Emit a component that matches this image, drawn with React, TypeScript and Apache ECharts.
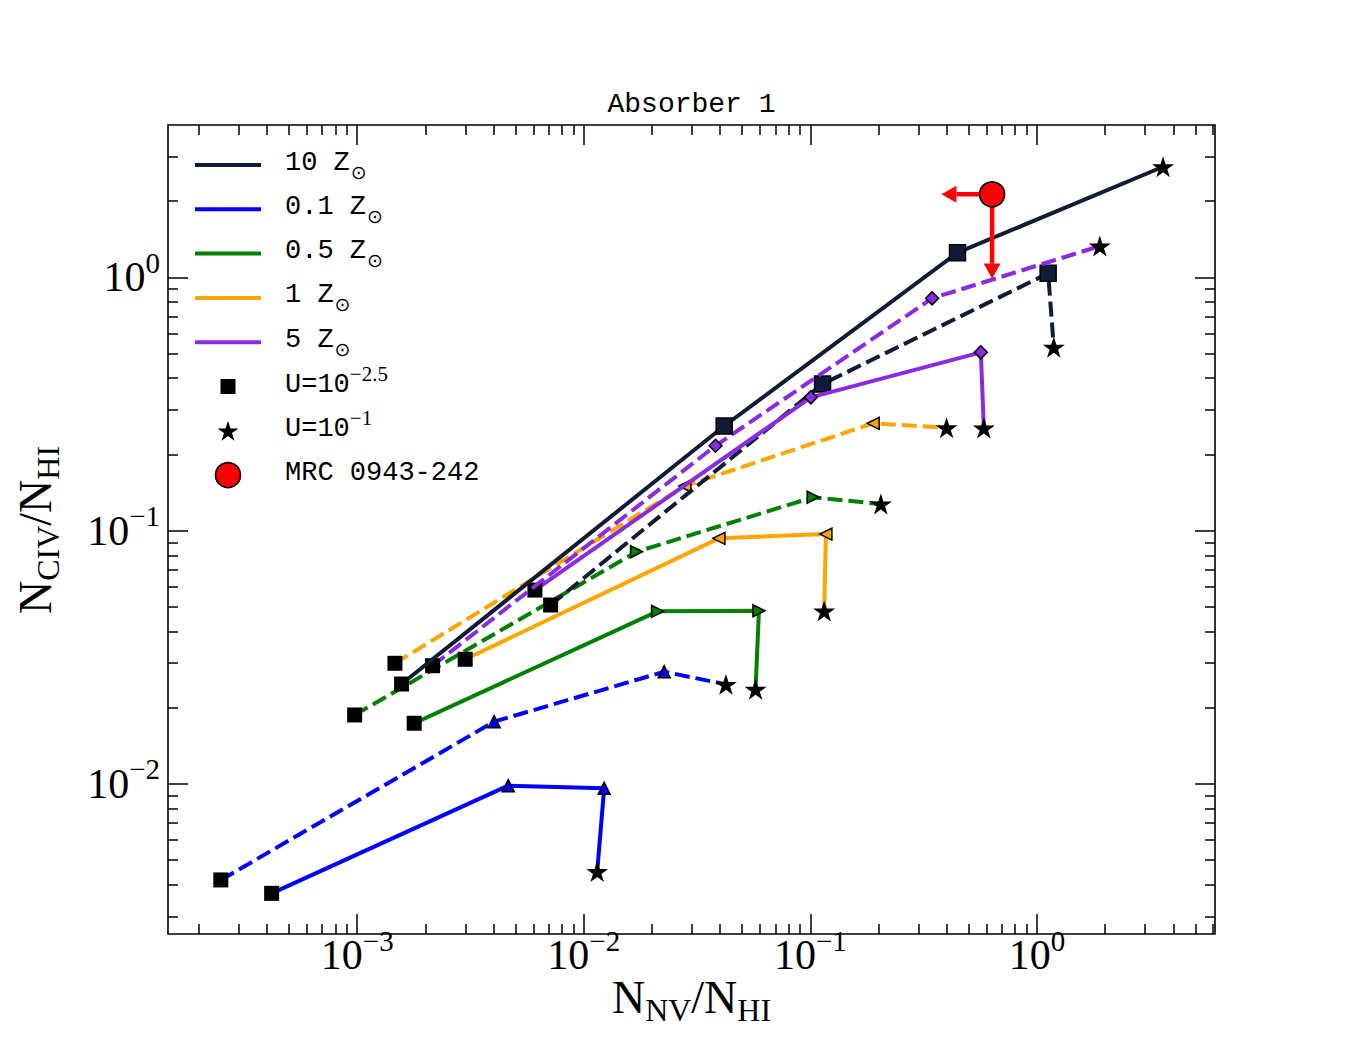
import React, { useEffect, useRef } from 'react';
import * as echarts from 'echarts';

// ---------------- data: N_NV/N_HI (x) and N_CIV/N_HI (y) ----------------
// each curve: U = 10^-2.5 (first) ... U = 10^-1 (last)
const z01SolidNV = [4.19e-4, 4.64e-3, 1.23e-2, 1.146e-2];
const z01SolidCIV = [3.70e-3, 9.85e-3, 9.62e-3, 4.51e-3];
const z01DashNV = [2.50e-4, 4.02e-3, 2.264e-2, 4.24e-2];
const z01DashCIV = [4.18e-3, 1.762e-2, 2.775e-2, 2.474e-2];
const z05SolidNV = [1.784e-3, 2.117e-2, 5.93e-2, 5.73e-2];
const z05SolidCIV = [1.737e-2, 4.805e-2, 4.83e-2, 2.365e-2];
const z05DashNV = [9.74e-4, 1.710e-2, 0.1029, 0.2047];
const z05DashCIV = [1.873e-2, 8.26e-2, 0.1355, 0.1274];
const z1SolidNV = [2.996e-3, 3.948e-2, 0.1171, 0.1151];
const z1SolidCIV = [3.107e-2, 9.33e-2, 9.70e-2, 4.82e-2];
const z1DashNV = [1.467e-3, 2.794e-2, 0.1893, 0.3993];
const z1DashCIV = [2.996e-2, 0.1501, 0.2655, 0.2550];
const z5SolidNV = [6.085e-3, 0.1005, 0.5655, 0.5831];
const z5SolidCIV = [5.83e-2, 0.3362, 0.5061, 0.2543];
const z5DashNV = [2.151e-3, 3.817e-2, 0.3447, 1.895];
const z5DashCIV = [2.931e-2, 0.2166, 0.827, 1.330];
const z10SolidNV = [1.570e-3, 4.165e-2, 0.4462, 3.605];
const z10SolidCIV = [2.481e-2, 0.2591, 1.252, 2.735];
const z10DashNV = [7.14e-3, 0.1132, 1.121, 1.187];
const z10DashCIV = [5.09e-2, 0.3794, 1.038, 0.530];

// observed absorber (upper limits)
const mrcNV = 0.634;
const mrcCIV = 2.129;
const mrcLimitNV = 0.379;
const mrcLimitCIV = 0.99;

// axis ranges and tick labels
const xRange = [1.4615e-4, 6.11];
const yRange = [2.557e-3, 3.998];
const xMajor = [1e-3, 1e-2, 1e-1, 1];
const yMajor = [1e-2, 1e-1, 1];

const legendLabels = ['10', '0.1', '0.5', '1', '5'];

// ---------------- helpers ----------------
const lg = (v: number) => Math.log10(v);
const XMIN = lg(xRange[0]);
const XMAX = lg(xRange[1]);
const YMIN = lg(yRange[0]);
const YMAX = lg(yRange[1]);

function minorTicks(lo: number, hi: number) {
  const out: number[] = [];
  for (let n = Math.floor(lo); n <= Math.ceil(hi); n++) {
    for (let k = 2; k <= 9; k++) {
      const v = n + Math.log10(k);
      if (v > lo && v < hi) out.push(v);
    }
  }
  return out;
}

function starPoints(cx: number, cy: number, R: number) {
  const pts: number[][] = [];
  for (let i = 0; i < 10; i++) {
    const r = i % 2 === 0 ? R : R * 0.381966;
    const a = -Math.PI / 2 + (i * Math.PI) / 5;
    pts.push([cx + r * Math.cos(a), cy + r * Math.sin(a)]);
  }
  return pts;
}
const STAR =
  'path://M' +
  starPoints(0, 0, 10)
    .map((p) => p[0].toFixed(3) + ',' + p[1].toFixed(3))
    .join('L') +
  'Z';
const TRI_UP = 'path://M5,0L10,10L0,10Z';
const TRI_RIGHT = 'path://M0,0L10,5L0,10Z';
const TRI_LEFT = 'path://M10,0L0,5L10,10Z';
const DIAMOND = 'path://M5,0L10,5L5,10L0,5Z';

const NAVY = '#101c35';
const BLUE = '#0000ff';
const GREEN = '#008000';
const ORANGE = '#ffa500';
const PURPLE = '#8a2be2';

const SERIF = "'Liberation Serif', 'DejaVu Serif', serif";
const MONO = "'Liberation Mono', 'DejaVu Sans Mono', monospace";

type Curve = {
  nv: number[];
  civ: number[];
  color: string;
  dashed: boolean;
  marker: string;
  msize: number;
  mcolor: string;
};

const curves: Curve[] = [
  { nv: z01SolidNV, civ: z01SolidCIV, color: BLUE, dashed: false, marker: TRI_UP, msize: 12, mcolor: BLUE },
  { nv: z01DashNV, civ: z01DashCIV, color: BLUE, dashed: true, marker: TRI_UP, msize: 12, mcolor: BLUE },
  { nv: z05SolidNV, civ: z05SolidCIV, color: GREEN, dashed: false, marker: TRI_RIGHT, msize: 12, mcolor: GREEN },
  { nv: z05DashNV, civ: z05DashCIV, color: GREEN, dashed: true, marker: TRI_RIGHT, msize: 12, mcolor: GREEN },
  { nv: z1SolidNV, civ: z1SolidCIV, color: ORANGE, dashed: false, marker: TRI_LEFT, msize: 12, mcolor: ORANGE },
  { nv: z1DashNV, civ: z1DashCIV, color: ORANGE, dashed: true, marker: TRI_LEFT, msize: 12, mcolor: ORANGE },
  { nv: z10DashNV, civ: z10DashCIV, color: NAVY, dashed: true, marker: 'rect', msize: 16, mcolor: NAVY },
  { nv: z5SolidNV, civ: z5SolidCIV, color: PURPLE, dashed: false, marker: DIAMOND, msize: 13, mcolor: PURPLE },
  { nv: z5DashNV, civ: z5DashCIV, color: PURPLE, dashed: true, marker: DIAMOND, msize: 13, mcolor: PURPLE },
  { nv: z10SolidNV, civ: z10SolidCIV, color: NAVY, dashed: false, marker: 'rect', msize: 16, mcolor: NAVY },
];

const expLabel = (v: number) => {
  const e = Math.round(v);
  return '{b|10}{e|' + (e < 0 ? '\u2212' + Math.abs(e) : String(e)) + '}';
};
const xLabelRich = {
  b: { fontFamily: SERIF, fontSize: 42, color: '#000', verticalAlign: 'top', padding: [8, 0, 0, 0] },
  e: { fontFamily: SERIF, fontSize: 29, color: '#000', verticalAlign: 'top' },
};
const yLabelRich = {
  b: { fontFamily: SERIF, fontSize: 42, color: '#000', verticalAlign: 'top', padding: [8, 0, 8, 0] },
  e: { fontFamily: SERIF, fontSize: 29, color: '#000', verticalAlign: 'top' },
};

function mkAxis(position: string, min: number, max: number, ticks: number[], len: number, labels: boolean) {
  const isX = position === 'bottom' || position === 'top';
  return {
    type: 'value',
    position,
    min,
    max,
    axisLine: { show: false, onZero: false },
    splitLine: { show: false },
    axisTick: {
      show: true,
      inside: true,
      length: len,
      customValues: ticks,
      lineStyle: { color: '#000', width: 1.5 },
    },
    axisLabel: labels
      ? {
          show: true,
          customValues: ticks,
          formatter: expLabel,
          rich: isX ? xLabelRich : yLabelRich,
          margin: isX ? -8 : 8,
        }
      : { show: false },
  };
}

function buildOption() {
  const xMaj = xMajor.map(lg);
  const yMaj = yMajor.map(lg);
  const xMin = minorTicks(XMIN, XMAX);
  const yMin = minorTicks(YMIN, YMAX);

  const lineSeries = curves.map((c, ci) => ({
    type: 'line',
    xAxisIndex: 0,
    yAxisIndex: 0,
    silent: true,
    showAllSymbol: true,
    symbolKeepAspect: true,
    z: 2 + ci * 0.01,
    lineStyle: { color: c.color, width: 4, type: c.dashed ? [15, 6] : 'solid', cap: 'butt' },
    itemStyle: { color: c.color },
    data: c.nv.map((x, i) => {
      const last = i === c.nv.length - 1;
      if (i === 0) {
        return { value: [lg(x), lg(c.civ[i])], symbol: 'rect', symbolSize: 15, itemStyle: { color: '#000', borderWidth: 0 } };
      }
      if (last) {
        return { value: [lg(x), lg(c.civ[i])], symbol: STAR, symbolSize: 22, itemStyle: { color: '#000', borderWidth: 0 } };
      }
      return {
        value: [lg(x), lg(c.civ[i])],
        symbol: c.marker,
        symbolSize: c.msize,
        itemStyle: { color: c.mcolor, borderColor: '#000', borderWidth: 1.5 },
      };
    }),
  }));

  const arrowSeries = {
    type: 'custom',
    xAxisIndex: 0,
    yAxisIndex: 0,
    silent: true,
    z: 9,
    encode: { x: [0, 2], y: [1, 3] },
    data: [
      [lg(mrcNV), lg(mrcCIV), lg(mrcLimitNV), lg(mrcCIV)],
      [lg(mrcNV), lg(mrcCIV), lg(mrcNV), lg(mrcLimitCIV)],
    ],
    renderItem: (params: any, api: any) => {
      const c = api.coord([api.value(0), api.value(1)]);
      const t = api.coord([api.value(2), api.value(3)]);
      const dx = t[0] - c[0];
      const dy = t[1] - c[1];
      const len = Math.hypot(dx, dy) || 1;
      const ux = dx / len;
      const uy = dy / len;
      const headLen = 15;
      const headW = 8.5;
      const b = [t[0] - ux * headLen, t[1] - uy * headLen];
      return {
        type: 'group',
        children: [
          { type: 'line', shape: { x1: c[0], y1: c[1], x2: b[0], y2: b[1] }, style: { stroke: '#ff0000', lineWidth: 4.5 } },
          {
            type: 'polygon',
            shape: { points: [t, [b[0] - uy * headW, b[1] + ux * headW], [b[0] + uy * headW, b[1] - ux * headW]] },
            style: { fill: '#ff0000' },
          },
        ],
      };
    },
  };

  const mrcSeries = {
    type: 'scatter',
    xAxisIndex: 0,
    yAxisIndex: 0,
    silent: true,
    z: 10,
    symbol: 'circle',
    symbolSize: 25,
    itemStyle: { color: '#ff0000', borderColor: '#000', borderWidth: 1.6, opacity: 1 },
    data: [[lg(mrcNV), lg(mrcCIV)]],
  };

  // legend drawn with graphic elements
  const LX0 = 195;
  const LX1 = 261;
  const LMX = 228;
  const LTX = 285;
  const rowY = (i: number) => 165 + 44.3 * i;
  const lineColors = [NAVY, BLUE, GREEN, ORANGE, PURPLE];
  const legendEls: any[] = [];
  lineColors.forEach((col, i) => {
    legendEls.push({
      type: 'line',
      shape: { x1: LX0, y1: rowY(i), x2: LX1, y2: rowY(i) },
      style: { stroke: col, lineWidth: 4 },
    });
    legendEls.push({
      type: 'text',
      x: LTX,
      y: rowY(i) - 16,
      style: {
        text: '{t|' + legendLabels[i] + ' Z}{s|\u2299}',
        verticalAlign: 'top',
        align: 'left',
        rich: {
          t: { fontFamily: MONO, fontSize: 27, fill: '#000', verticalAlign: 'top' },
          s: { fontFamily: "'DejaVu Sans', sans-serif", fontSize: 19, fill: '#000', verticalAlign: 'top', padding: [13, 0, 0, 1] },
        },
      },
    });
  });
  const supRich = {
    t: { fontFamily: MONO, fontSize: 27, fill: '#000', verticalAlign: 'top', padding: [8, 0, 0, 0] },
    p: { fontFamily: SERIF, fontSize: 21, fill: '#000', verticalAlign: 'top' },
  };
  legendEls.push({
    type: 'rect',
    shape: { x: LMX - 7.5, y: rowY(5) - 7.5, width: 15, height: 15 },
    style: { fill: '#000' },
  });
  legendEls.push({
    type: 'text',
    x: LTX,
    y: rowY(5) - 23,
    style: { text: '{t|U=10}{p|\u22122.5}', verticalAlign: 'top', align: 'left', rich: supRich },
  });
  legendEls.push({
    type: 'polygon',
    shape: { points: starPoints(LMX, rowY(6) + 1, 11) },
    style: { fill: '#000' },
  });
  legendEls.push({
    type: 'text',
    x: LTX,
    y: rowY(6) - 23,
    style: { text: '{t|U=10}{p|\u22121}', verticalAlign: 'top', align: 'left', rich: supRich },
  });
  legendEls.push({
    type: 'circle',
    shape: { cx: LMX, cy: rowY(7), r: 12.5 },
    style: { fill: '#ff0000', stroke: '#000', lineWidth: 1.6 },
  });
  legendEls.push({
    type: 'text',
    x: LTX,
    y: rowY(7) - 16,
    style: { text: 'MRC 0943-242', fontFamily: MONO, fontSize: 27, fill: '#000', verticalAlign: 'top', align: 'left' },
  });

  const titleRich = {
    n: { fontFamily: SERIF, fontSize: 46, fill: '#000', verticalAlign: 'top' },
    s: { fontFamily: SERIF, fontSize: 32, fill: '#000', verticalAlign: 'top', padding: [20, 0, 0, 0] },
  };

  return {
    animation: false,
    backgroundColor: '#ffffff',
    grid: {
      left: 168,
      top: 125,
      width: 1047,
      height: 809,
      show: true,
      borderColor: '#000',
      borderWidth: 1.6,
      backgroundColor: 'transparent',
      containLabel: false,
    },
    xAxis: [
      mkAxis('bottom', XMIN, XMAX, xMaj, 20, true),
      mkAxis('bottom', XMIN, XMAX, xMin, 10, false),
      mkAxis('top', XMIN, XMAX, xMaj, 20, false),
      mkAxis('top', XMIN, XMAX, xMin, 10, false),
    ],
    yAxis: [
      mkAxis('left', YMIN, YMAX, yMaj, 20, true),
      mkAxis('left', YMIN, YMAX, yMin, 10, false),
      mkAxis('right', YMIN, YMAX, yMaj, 20, false),
      mkAxis('right', YMIN, YMAX, yMin, 10, false),
    ],
    series: [...lineSeries, arrowSeries, mrcSeries],
    graphic: [
      {
        type: 'text',
        x: 691.5,
        y: 104,
        style: { text: 'Absorber 1', fontFamily: MONO, fontSize: 28, fill: '#000', align: 'center', verticalAlign: 'middle' },
      },
      {
        type: 'text',
        x: 691.5,
        y: 1000,
        style: { text: '{n|N}{s|NV}{n|/N}{s|HI}', align: 'center', verticalAlign: 'middle', rich: titleRich },
      },
      {
        type: 'text',
        x: 38,
        y: 530,
        rotation: Math.PI / 2,
        style: { text: '{n|N}{s|CIV}{n|/N}{s|HI}', align: 'center', verticalAlign: 'middle', rich: titleRich },
      },
      ...legendEls,
    ],
  };
}

export default function App() {
  const ref = useRef<HTMLDivElement>(null);
  useEffect(() => {
    if (!ref.current) return;
    const chart = echarts.init(ref.current, null, { renderer: 'svg' });
    chart.setOption(buildOption() as any);
    return () => chart.dispose();
  }, []);
  return (
    <div
      ref={ref}
      style={{ position: 'absolute', left: 0, top: 0, width: 1350, height: 1050, background: '#ffffff' }}
    />
  );
}
